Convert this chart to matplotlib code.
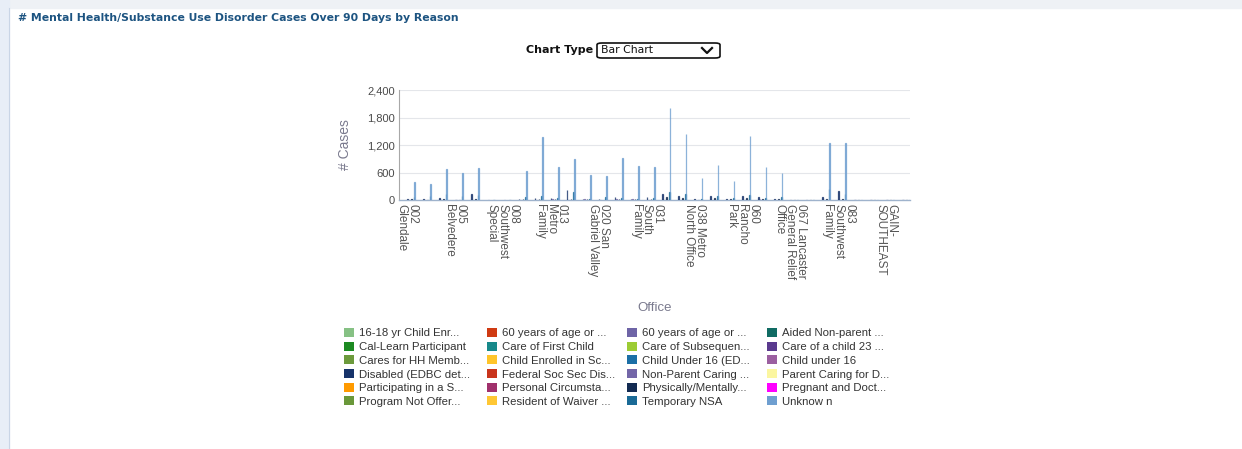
import matplotlib
matplotlib.use('Agg')
import matplotlib.pyplot as plt
from matplotlib.patches import Rectangle, FancyBboxPatch, Patch
from matplotlib.lines import Line2D
from matplotlib.ticker import FuncFormatter

# offices (32 groups, every third one is labelled on the axis)
offices = ['002\nGlendale', '003', '004', '005\nBelvedere', '006', '007',
           '008\nSouthwest\nSpecial', '010', '012', '013\nMetro\nFamily', '014', '015',
           '020 San\nGabriel Valley', '024', '026', '031\nSouth\nFamily', '033', '034',
           '038 Metro\nNorth Office', '040', '050', '060\nRancho\nPark', '061', '062',
           '067 Lancaster\nGeneral Relief\nOffice', '070', '080', '083\nSouthwest\nFamily',
           '090', '091', 'GAIN-\nSOUTHEAST', 'GAIN-\nWEST']

# reasons, in legend order (row by row)
reasons = ['16-18 yr Child Enr...', '60 years of age or ...', '60 years of age or ...', 'Aided Non-parent ...',
           'Cal-Learn Participant', 'Care of First Child', 'Care of Subsequen...', 'Care of a child 23 ...',
           'Cares for HH Memb...', 'Child Enrolled in Sc...', 'Child Under 16 (ED...', 'Child under 16',
           'Disabled (EDBC det...', 'Federal Soc Sec Dis...', 'Non-Parent Caring ...', 'Parent Caring for D...',
           'Participating in a S...', 'Personal Circumsta...', 'Physically/Mentally...', 'Pregnant and Doct...',
           'Program Not Offer...', 'Resident of Waiver ...', 'Temporary NSA', 'Unknow n']
colors = ['#86c184', '#cf3a12', '#6e64a6', '#106b63',
          '#1c8a22', '#17898a', '#9ccc34', '#5a3a8e',
          '#6c9a3c', '#ffc52a', '#1b6fa6', '#9b5fa0',
          '#17336a', '#c9341c', '#7366a8', '#fbf6a0',
          '#ff9a00', '#a0306c', '#132b52', '#ff00ff',
          '#6a983a', '#ffc734', '#1a6a96', '#6f9fd0']

# series with cases (index into reasons -> values per office)
disabled = [25, 15, 40, 10, 130, 0, 0, 30, 40, 45, 210, 20, 30, 55, 30, 60,
            130, 80, 15, 80, 20, 90, 60, 30, 0, 0, 60, 195, 0, 0, 0, 0]
non_parent = [0, 0, 0, 0, 0, 0, 0, 0, 0, 15, 0, 20, 10, 15, 20, 10,
              0, 0, 0, 0, 10, 0, 15, 0, 0, 0, 0, 0, 0, 0, 0, 0]
physically_mentally = [20, 10, 25, 0, 20, 0, 0, 20, 25, 30, 30, 15, 10, 20, 20, 20,
                       60, 40, 10, 40, 15, 50, 25, 20, 0, 0, 20, 30, 0, 0, 0, 0]
temporary_nsa = [60, 95, 130, 90, 115, 0, 0, 55, 85, 45, 170, 25, 70, 45, 30, 50,
                 165, 130, 20, 95, 40, 120, 40, 70, 0, 0, 250, 125, 0, 0, 0, 0]
unknown = [382, 355, 668, 590, 698, 0, 0, 625, 1372, 720, 892, 550, 530, 910, 748, 716,
           2012, 1435, 482, 768, 410, 1390, 716, 585, 0, 0, 1250, 1245, 0, 0, 0, 0]

series = {12: disabled, 14: non_parent, 18: physically_mentally, 22: temporary_nsa, 23: unknown}

W, H = 1242, 449
fig = plt.figure(figsize=(W / 100, H / 100), dpi=100)
fig.patch.set_facecolor('white')
plt.rcParams['font.family'] = ['Liberation Sans', 'DejaVu Sans']

# page frame
fig.patches.append(Rectangle((0, 1 - 8 / H), 1, 8 / H, transform=fig.transFigure, color='#eef1f5', zorder=0))
fig.patches.append(Rectangle((0, 0), 9 / W, 1, transform=fig.transFigure, color='#e8eef7', zorder=0))
fig.add_artist(Line2D([9 / W, 9 / W], [0, 1 - 8 / H], transform=fig.transFigure, color='#c9d5e6', lw=0.8))

fig.text(18 / W, 1 - 18 / H, '# Mental Health/Substance Use Disorder Cases Over 90 Days by Reason',
         fontsize=7.8, fontweight='bold', color='#1d5481', va='center', ha='left', family='DejaVu Sans')

# chart type selector
fig.text(593 / W, 1 - 50 / H, 'Chart Type', fontsize=8, fontweight='bold', color='#111111',
         ha='right', va='center', family='DejaVu Sans')
fig.patches.append(FancyBboxPatch((597 / W, 1 - 58 / H), 123 / W, 15 / H, transform=fig.transFigure,
                                  boxstyle='round,pad=0,rounding_size=0.004', fc='white', ec='#111111', lw=1.2))
fig.text(601 / W, 1 - 50 / H, 'Bar Chart', fontsize=7.8, color='#111111', ha='left', va='center',
         family='DejaVu Sans')
fig.add_artist(Line2D([702 / W, 707 / W, 712 / W], [1 - 48 / H, 1 - 53 / H, 1 - 48 / H],
                      transform=fig.transFigure, color='#111111', lw=1.6))

ax = fig.add_axes([399 / W, 1 - 200 / H, 511 / W, 110 / H])
n = len(offices)
for j, vals in series.items():
    xs = [i - 0.5 + (j + 0.5) / 24 for i in range(n)]
    ax.bar(xs, vals, width=1 / 24, color=colors[j], edgecolor=colors[j], linewidth=0.9,
           alpha=0.8, zorder=3)

ax.set_xlim(-0.5, n - 0.5)
ax.set_ylim(0, 2400)
ax.set_yticks([0, 600, 1200, 1800, 2400])
ax.yaxis.set_major_formatter(FuncFormatter(lambda v, p: f'{int(v):,}'))
ax.set_xticks(range(0, n, 3))
ax.set_xticklabels([offices[i] for i in range(0, n, 3)], rotation=270, fontsize=8.5,
                   color='#555555', linespacing=0.88, multialignment='left')
ax.tick_params(axis='y', length=0, labelsize=8, labelcolor='#4a4a4a', pad=3)
ax.tick_params(axis='x', length=0, pad=3)
ax.grid(axis='y', color='#e4e6ea', lw=0.8, zorder=0)
for s in ['top', 'right']:
    ax.spines[s].set_visible(False)
ax.spines['left'].set_color('#a8a8a8')
ax.spines['left'].set_linewidth(0.8)
ax.spines['bottom'].set_color('#9fb3cc')
ax.spines['bottom'].set_linewidth(1.0)
ax.set_ylabel('# Cases', fontsize=10, color='#7a7a8e', labelpad=11)

fig.text(655 / W, 1 - 308 / H, 'Office', fontsize=9.5, color='#7a7a8e', ha='center', va='center')

# legend, four columns filled row by row
col_x = [344, 487, 627, 767]
for c in range(4):
    handles = [Patch(facecolor=colors[r * 4 + c], edgecolor='none') for r in range(6)]
    labels = [reasons[r * 4 + c] for r in range(6)]
    fig.legend(handles, labels, loc='upper left', bbox_to_anchor=(col_x[c] / W, 1 - 328 / H),
               frameon=False, fontsize=8.2, handlelength=0.85, handleheight=0.85,
               handletextpad=0.45, labelspacing=0.28, borderpad=0, borderaxespad=0,
               labelcolor='#333333')

fig.savefig('out.png', dpi=100, facecolor='white')
